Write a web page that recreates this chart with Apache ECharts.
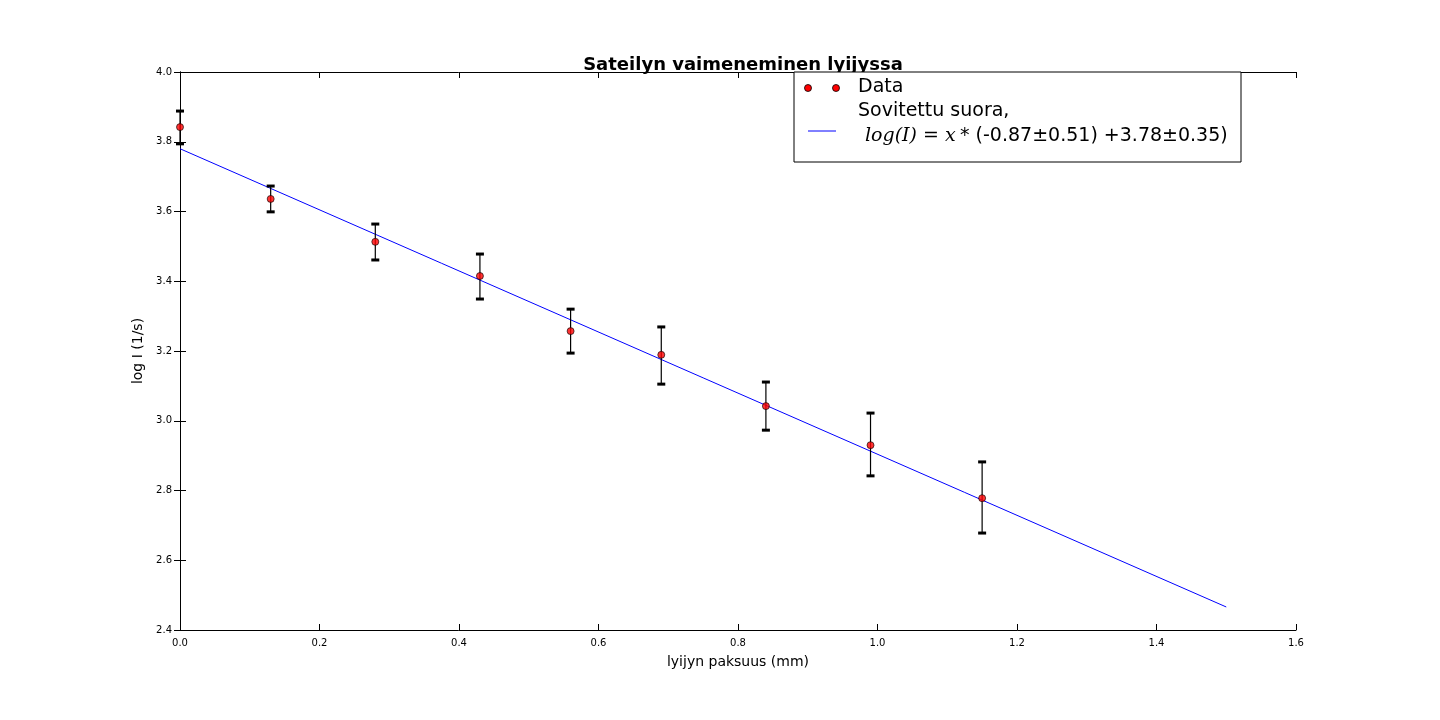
<!DOCTYPE html>
<html>
<head>
<meta charset="utf-8">
<script src="https://cdn.jsdelivr.net/npm/echarts@6/dist/echarts.min.js"></script>
<style>html,body{margin:0;background:#fff}#chart{width:1440px;height:720px}</style>
</head>
<body>
<div id="chart"></div>
<script>
// measured data
var thickness = [0, 0.13, 0.28, 0.43, 0.56, 0.69, 0.84, 0.99, 1.15];
var logI = [3.842, 3.636, 3.513, 3.415, 3.257, 3.189, 3.042, 2.930, 2.778];
var errHigh = [3.888, 3.673, 3.564, 3.478, 3.320, 3.269, 3.111, 3.022, 2.882];
var errLow = [3.794, 3.599, 3.461, 3.349, 3.194, 3.105, 2.973, 2.842, 2.678];
var fitLine = [[0, 3.78], [1.5, 2.466]];

var chart = echarts.init(document.getElementById('chart'));
var errData = thickness.map(function (x, i) { return [x, errLow[i], errHigh[i]]; });
var ptData = thickness.map(function (x, i) { return [x, logI[i]]; });

function fmt(v) { return v.toFixed(1); }
var tickStyle = { inside: true, length: 6, lineStyle: { color: '#000' } };
var lblStyle = { fontFamily: 'DejaVu Sans', fontSize: 10, color: '#000', formatter: fmt };

var option = {
    animation: false,
    title: {
        text: 'Sateilyn vaimeneminen lyijyssa',
        left: 738, top: 51, textAlign: 'center',
        textStyle: { fontFamily: 'DejaVu Sans', fontSize: 18, fontWeight: 'bold', color: '#000' }
    },
    grid: { left: 180, right: 144, top: 72, bottom: 90 },
    xAxis: [{
        type: 'value', min: 0, max: 1.6, interval: 0.2,
        name: 'lyijyn paksuus (mm)', nameLocation: 'middle', nameGap: 25,
        nameTextStyle: { fontFamily: 'DejaVu Sans', fontSize: 14, color: '#000' },
        axisLine: { lineStyle: { color: '#000' } },
        axisTick: tickStyle, axisLabel: lblStyle, splitLine: { show: false }
    }, {
        type: 'value', min: 0, max: 1.6, interval: 0.2, position: 'top',
        axisLine: { show: true, lineStyle: { color: '#000' } },
        axisTick: tickStyle, axisLabel: { show: false }, splitLine: { show: false }
    }],
    yAxis: [{
        type: 'value', min: 2.4, max: 4.0, interval: 0.2,
        name: 'log I (1/s)', nameLocation: 'middle', nameGap: 30,
        nameTextStyle: { fontFamily: 'DejaVu Sans', fontSize: 14, color: '#000' },
        axisLine: { show: true, lineStyle: { color: '#000' } },
        axisTick: tickStyle, axisLabel: lblStyle, splitLine: { show: false }
    }, {
        type: 'value', min: 2.4, max: 4.0, interval: 0.2, position: 'right',
        axisLine: { show: true, lineStyle: { color: '#000' } },
        axisTick: tickStyle, axisLabel: { show: false }, splitLine: { show: false }
    }],
    series: [
        {
            type: 'custom', data: errData, z: 3,
            renderItem: function (params, api) {
                var x = api.value(0);
                var lo = api.coord([x, api.value(1)]);
                var hi = api.coord([x, api.value(2)]);
                var st = { stroke: '#000', lineWidth: 1.2 };
                var cap = { stroke: '#000', lineWidth: 3 };
                return {
                    type: 'group', children: [
                        { type: 'line', shape: { x1: lo[0], y1: lo[1], x2: hi[0], y2: hi[1] }, style: st },
                        { type: 'line', shape: { x1: lo[0] - 4, y1: lo[1], x2: lo[0] + 4, y2: lo[1] }, style: cap },
                        { type: 'line', shape: { x1: hi[0] - 4, y1: hi[1], x2: hi[0] + 4, y2: hi[1] }, style: cap }
                    ]
                };
            }
        },
        {
            type: 'line', data: fitLine, showSymbol: false, z: 2,
            lineStyle: { color: '#0000ff', width: 1 }
        },
        {
            type: 'scatter', data: ptData, symbolSize: 7, z: 4,
            itemStyle: { color: '#ff0000', borderColor: '#000', borderWidth: 0.8 }
        }
    ],
    graphic: [
        { type: 'rect', shape: { x: 794, y: 72, width: 447, height: 90 }, style: { fill: '#fff', stroke: '#000', lineWidth: 1 }, z: 10 },
        { type: 'circle', shape: { cx: 808, cy: 88, r: 3.5 }, style: { fill: '#ff0000', stroke: '#000', lineWidth: 0.8 }, z: 11 },
        { type: 'circle', shape: { cx: 836, cy: 88, r: 3.5 }, style: { fill: '#ff0000', stroke: '#000', lineWidth: 0.8 }, z: 11 },
        { type: 'text', x: 858, y: 78, style: { text: 'Data', fontFamily: 'DejaVu Sans', fontSize: 19, fill: '#000' }, z: 11 },
        { type: 'text', x: 858, y: 102, style: { text: 'Sovitettu suora,', fontFamily: 'DejaVu Sans', fontSize: 19, fill: '#000' }, z: 11 },
        { type: 'line', shape: { x1: 808, y1: 131, x2: 836, y2: 131 }, style: { stroke: '#0000ff', lineWidth: 1 }, z: 11 },
        { type: 'text', x: 865, y: 127, style: { text: 'log(I) = x', fontFamily: 'DejaVu Serif', fontStyle: 'italic', fontSize: 19, fill: '#000' }, z: 11 },
        { type: 'text', x: 954, y: 127, style: { text: ' * (-0.87\u00b10.51) +3.78\u00b10.35)', fontFamily: 'DejaVu Sans', fontSize: 19, fill: '#000' }, z: 11 }
    ]
};
chart.setOption(option);
</script>
</body>
</html>
